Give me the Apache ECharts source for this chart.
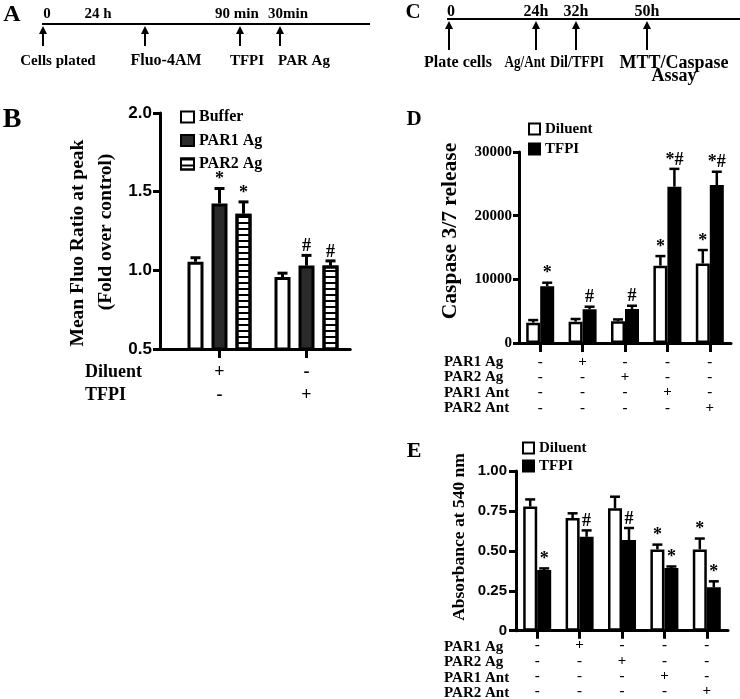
<!DOCTYPE html>
<html><head><meta charset="utf-8">
<script src="https://cdn.jsdelivr.net/npm/echarts@6/dist/echarts.min.js"></script>
<style>html,body{margin:0;padding:0;background:#fff}#c{width:740px;height:699px}</style>
</head><body><div id="c"></div>
<script>
// ---------- DATA ----------
// Panel A timeline
const aTopLabels = ['0', '24 h', '90 min', '30min'];
const aBottomLabels = ['Cells plated', 'Fluo-4AM', 'TFPI', 'PAR Ag'];
// Panel C timeline
const cTopLabels = ['0', '24h', '32h', '50h'];
const cBottomLabels = ['Plate cells', 'Ag/Ant', 'Dil/TFPI', 'MTT/Caspase\nAssay'];

// Panel B
const bSeriesNames = ['Buffer', 'PAR1 Ag', 'PAR2 Ag'];
const bRowNames = ['Diluent', 'TFPI'];
const bRowSigns = [['+', '-'], ['-', '+']];
const bTicks = [0.5, 1.0, 1.5, 2.0];
const bBuffer = [1.055, 0.957];
const bBufferErr = [0.025, 0.025];
const bBufferMarks = ['', ''];
const bPar1 = [1.425, 1.03];
const bPar1Err = [0.095, 0.065];
const bPar1Marks = ['*', '#'];
const bPar2 = [1.36, 1.03];
const bPar2Err = [0.075, 0.03];
const bPar2Marks = ['*', '#'];

// Panel D
const dRowNames = ['PAR1 Ag', 'PAR2 Ag', 'PAR1 Ant', 'PAR2 Ant'];
const dRowSigns = [
  ['-', '+', '-', '-', '-'],
  ['-', '-', '+', '-', '-'],
  ['-', '-', '-', '+', '-'],
  ['-', '-', '-', '-', '+']
];
const dDiluent = [3200, 3350, 3400, 12150, 12500];
const dDiluentErr = [400, 420, 300, 1500, 2100];
const dDiluentMarks = ['', '', '', '*', '*'];
const dTfpi = [8900, 5300, 5350, 24550, 24800];
const dTfpiErr = [570, 400, 500, 2800, 2100];
const dTfpiMarks = ['*', '#', '#', '*#', '*#'];

// Panel E
const eRowNames = ['PAR1 Ag', 'PAR2 Ag', 'PAR1 Ant', 'PAR2 Ant'];
const eRowSigns = dRowSigns;
const eDiluent = [0.777, 0.705, 0.767, 0.509, 0.509];
const eDiluentErr = [0.045, 0.03, 0.072, 0.03, 0.068];
const eDiluentMarks = ['', '', '', '*', '*'];
const eTfpi = [0.38, 0.588, 0.568, 0.392, 0.272];
const eTfpiErr = [0.01, 0.04, 0.075, 0.01, 0.037];
const eTfpiMarks = ['*', '#', '#', '*', '*'];

// ---------- STYLE / LAYOUT ----------
const SERIF = 'Liberation Serif';
const SANS = 'Liberation Sans';
const bold = (size, fam) => 'bold ' + size + 'px "' + (fam || SERIF) + '"';

function colLabels(rows) {
  return rows[0].map((_, j) => rows.map(r => r[j]).join('\n'));
}

function txt(x, y, text, size, opt) {
  opt = opt || {};
  return {
    type: 'text', x: x, y: y, rotation: opt.rotation || 0, scaleX: opt.scaleX || 1, silent: true,
    style: {
      text: text, font: bold(size, opt.family), fill: '#000',
      align: opt.align || 'center', textAlign: opt.align || 'center',
      verticalAlign: 'middle', textVerticalAlign: 'middle'
    }
  };
}

function arrow(x, yTip, yEnd) {
  return [
    { type: 'line', silent: true, shape: { x1: x, y1: yTip + 5, x2: x, y2: yEnd }, style: { stroke: '#000', lineWidth: 2 } },
    { type: 'polygon', silent: true, shape: { points: [[x, yTip], [x - 4, yTip + 8], [x + 4, yTip + 8]] }, style: { fill: '#000' } }
  ];
}

function errSeries(name, axisIdx, values, errs, marks, off, cap, lw, markSize) {
  return {
    type: 'custom', name: name + ' err', xAxisIndex: axisIdx, yAxisIndex: axisIdx, z: 5, silent: true,
    data: values.map((v, i) => [i, v, errs[i]]),
    renderItem: function (params, api) {
      const i = api.value(0), v = api.value(1), e = api.value(2);
      const pb = api.coord([i, v]), pt = api.coord([i, v + e]);
      const x = pb[0] + off;
      const ch = [
        { type: 'line', shape: { x1: x, y1: pb[1], x2: x, y2: pt[1] }, style: { stroke: '#000', lineWidth: lw } },
        { type: 'line', shape: { x1: x - cap / 2, y1: pt[1], x2: x + cap / 2, y2: pt[1] }, style: { stroke: '#000', lineWidth: lw } }
      ];
      const m = marks[params.dataIndex];
      if (m) ch.push({ type: 'text', x: x, y: pt[1] - 9, style: { text: m, font: bold(markSize), fill: '#000', align: 'center', verticalAlign: 'middle' } });
      return { type: 'group', children: ch };
    }
  };
}

const axisBlack = (w) => ({ show: true, onZero: false, lineStyle: { color: '#000', width: w } });

// ---------- GRAPHICS (schematics, letters, titles) ----------
const graphic = [];
// Panel letters
graphic.push(txt(12, 15, 'A', 24), txt(12, 120, 'B', 28), txt(413, 13, 'C', 21), txt(414, 120, 'D', 21), txt(414, 451, 'E', 22));

// A timeline
graphic.push({ type: 'line', silent: true, shape: { x1: 42, y1: 24, x2: 370, y2: 24 }, style: { stroke: '#000', lineWidth: 2 } });
const aArrowX = [43, 145, 240, 280];
const aTopX = [47, 98, 237, 288];
const aBotX = [58, 166, 247, 304];
aArrowX.forEach(x => graphic.push(...arrow(x, 26, 46)));
aTopLabels.forEach((t, i) => graphic.push(txt(aTopX[i], 14, t, 15)));
aBottomLabels.forEach((t, i) => graphic.push(txt(aBotX[i], 61, t, i === 1 ? 16 : 15)));

// C timeline
graphic.push({ type: 'line', silent: true, shape: { x1: 447, y1: 19, x2: 740, y2: 19 }, style: { stroke: '#000', lineWidth: 2 } });
const cArrowX = [449, 536, 576, 647];
const cTopX = [451, 536, 576, 647];
const cBotX = [458, 525, 577, 674];
const cBotSize = [16, 16, 16, 18];
const cBotScale = [1, 0.82, 0.88, 1];
cArrowX.forEach(x => graphic.push(...arrow(x, 21, 50)));
cTopLabels.forEach((t, i) => graphic.push(txt(cTopX[i], 12, t, 16)));
cBottomLabels.forEach((t, i) => {
  t.split('\n').forEach((ln, k) => graphic.push(txt(cBotX[i], 63 + k * 13, ln, cBotSize[i], { scaleX: cBotScale[i] })));
});

// Axis titles
graphic.push(txt(78, 243, 'Mean Fluo Ratio at peak', 19.5, { rotation: Math.PI / 2 }));
graphic.push(txt(106, 232, '(Fold over control)', 19.5, { rotation: Math.PI / 2 }));
graphic.push(txt(450, 231, 'Caspase 3/7 release', 21.5, { rotation: Math.PI / 2 }));
graphic.push(txt(459, 537, 'Absorbance at 540 nm', 17.5, { rotation: Math.PI / 2 }));

// Row names
bRowNames.forEach((t, i) => graphic.push(txt(85, 372 + i * 23, t, 18, { align: 'left' })));
dRowNames.forEach((t, i) => graphic.push(txt(444, 362 + i * 15.33, t, 15, { align: 'left' })));
eRowNames.forEach((t, i) => graphic.push(txt(444, 647 + i * 15.33, t, 15, { align: 'left' })));

// ---------- CHART ----------
const whiteBar = { color: '#fff', borderColor: '#000', borderWidth: 2.5 };
const blackBar = { color: '#000', borderColor: '#000', borderWidth: 2 };
const legendText = (size, lh) => ({ color: '#000', fontFamily: SERIF, fontWeight: 'bold', fontSize: size, lineHeight: lh });

const option = {
  backgroundColor: '#fff',
  animation: false,
  grid: [
    { left: 176, top: 113, width: 174, height: 236 },
    { left: 160, top: 113, width: 190, height: 236 },
    { left: 519, top: 152, width: 212, height: 191 },
    { left: 516, top: 471, width: 212, height: 161 }
  ],
  xAxis: [
    {
      gridIndex: 0, type: 'category', data: colLabels(bRowSigns),
      axisLine: axisBlack(3),
      axisTick: { show: true, alignWithLabel: true, length: 9, lineStyle: { color: '#000', width: 3 } },
      axisLabel: { interval: 0, margin: 12, color: '#000', fontFamily: SERIF, fontWeight: 'bold', fontSize: 18, lineHeight: 23 }
    },
    {
      gridIndex: 1, type: 'value', min: 0, max: 1,
      axisLine: axisBlack(3), axisTick: { show: false }, axisLabel: { show: false }, splitLine: { show: false }
    },
    {
      gridIndex: 2, type: 'category', data: colLabels(dRowSigns),
      axisLine: axisBlack(3),
      axisTick: { show: true, alignWithLabel: true, length: 9, lineStyle: { color: '#000', width: 3 } },
      axisLabel: { interval: 0, margin: 11, color: '#000', fontFamily: SERIF, fontWeight: 'bold', fontSize: 15, lineHeight: 15.33 }
    },
    {
      gridIndex: 3, type: 'category', data: colLabels(eRowSigns),
      axisLine: axisBlack(3),
      axisTick: { show: true, alignWithLabel: true, length: 8, lineStyle: { color: '#000', width: 3 } },
      axisLabel: { interval: 0, margin: 7, color: '#000', fontFamily: SERIF, fontWeight: 'bold', fontSize: 15, lineHeight: 15.33 }
    }
  ],
  yAxis: [
    {
      gridIndex: 0, type: 'value', min: bTicks[0], max: bTicks[bTicks.length - 1], interval: 0.5, offset: 16,
      axisLine: axisBlack(3),
      axisTick: { show: true, length: 7, lineStyle: { color: '#000', width: 3 } },
      axisLabel: { margin: 8, color: '#000', fontFamily: SANS, fontWeight: 'bold', fontSize: 17, formatter: v => v.toFixed(1) },
      splitLine: { show: false }
    },
    { gridIndex: 1, type: 'value', show: false },
    {
      gridIndex: 2, type: 'value', min: 0, max: 30000, interval: 10000,
      axisLine: axisBlack(3),
      axisTick: { show: true, length: 6, lineStyle: { color: '#000', width: 3 } },
      axisLabel: { margin: 7, color: '#000', fontFamily: SERIF, fontWeight: 'bold', fontSize: 15, formatter: v => String(v) },
      splitLine: { show: false }
    },
    {
      gridIndex: 3, type: 'value', min: 0, max: 1, interval: 0.25,
      axisLine: axisBlack(3),
      axisTick: { show: true, length: 7, lineStyle: { color: '#000', width: 3 } },
      axisLabel: { margin: 9, color: '#000', fontFamily: SANS, fontWeight: 'bold', fontSize: 15, formatter: v => v === 0 ? '0' : v.toFixed(2) },
      splitLine: { show: false }
    }
  ],
  legend: [
    {
      data: bSeriesNames, left: 180, top: 109, padding: 0, orient: 'vertical', icon: 'rect',
      itemWidth: 13, itemHeight: 11, itemGap: 7.5, selectedMode: false,
      textStyle: legendText(16, 16)
    },
    {
      data: ['Diluent', 'TFPI'], left: 528, top: 121.5, padding: 0, orient: 'vertical', icon: 'rect',
      itemWidth: 11, itemHeight: 11, itemGap: 5, selectedMode: false,
      textStyle: legendText(15, 15)
    },
    {
      data: ['Diluent', 'TFPI'], left: 522, top: 440.5, padding: 0, orient: 'vertical', icon: 'rect',
      itemWidth: 11, itemHeight: 11, itemGap: 3, selectedMode: false,
      textStyle: legendText(15, 15)
    }
  ],
  graphic: graphic,
  series: [
    // Panel B bars
    { type: 'bar', name: bSeriesNames[0], xAxisIndex: 0, yAxisIndex: 0, data: bBuffer, barWidth: 16, barGap: '50%', itemStyle: { color: '#fff', borderColor: '#000', borderWidth: 3 } },
    { type: 'bar', name: bSeriesNames[1], xAxisIndex: 0, yAxisIndex: 0, data: bPar1, barWidth: 16, barGap: '50%', itemStyle: { color: '#2a2a2a', borderColor: '#000', borderWidth: 3 } },
    {
      type: 'bar', name: bSeriesNames[2], xAxisIndex: 0, yAxisIndex: 0, data: bPar2, barWidth: 16, barGap: '50%',
      itemStyle: {
        color: '#fff', borderColor: '#000', borderWidth: 3,
        decal: { symbol: 'rect', symbolSize: 1, dashArrayX: [1, 0], dashArrayY: [2, 3.6], rotation: 0, color: '#000' }
      }
    },
    errSeries('Buffer', 0, bBuffer, bBufferErr, bBufferMarks, -24, 10, 3, 18),
    errSeries('PAR1 Ag', 0, bPar1, bPar1Err, bPar1Marks, 0, 10, 3, 18),
    errSeries('PAR2 Ag', 0, bPar2, bPar2Err, bPar2Marks, 24, 10, 3, 18),

    // Panel D bars
    { type: 'bar', name: 'Diluent', xAxisIndex: 2, yAxisIndex: 2, data: dDiluent, barWidth: 14, barGap: '0%', itemStyle: whiteBar },
    { type: 'bar', name: 'TFPI', xAxisIndex: 2, yAxisIndex: 2, data: dTfpi, barWidth: 14, barGap: '0%', itemStyle: blackBar },
    errSeries('D Diluent', 2, dDiluent, dDiluentErr, dDiluentMarks, -7, 10, 2.5, 18),
    errSeries('D TFPI', 2, dTfpi, dTfpiErr, dTfpiMarks, 7, 10, 2.5, 18),

    // Panel E bars
    { type: 'bar', name: 'Diluent', xAxisIndex: 3, yAxisIndex: 3, data: eDiluent, barWidth: 14, barGap: '0%', itemStyle: whiteBar },
    { type: 'bar', name: 'TFPI', xAxisIndex: 3, yAxisIndex: 3, data: eTfpi, barWidth: 14, barGap: '0%', itemStyle: blackBar },
    errSeries('E Diluent', 3, eDiluent, eDiluentErr, eDiluentMarks, -7, 10, 2.5, 18),
    errSeries('E TFPI', 3, eTfpi, eTfpiErr, eTfpiMarks, 7, 10, 2.5, 18)
  ]
};

const chart = echarts.init(document.getElementById('c'), null, { renderer: 'canvas' });
chart.setOption(option);
</script>
</body></html>
